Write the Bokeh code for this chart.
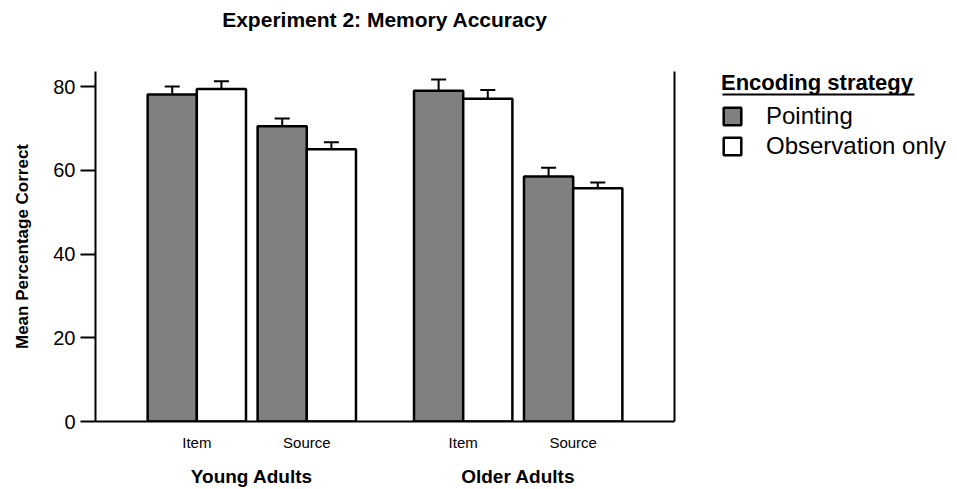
from bokeh.plotting import figure
from bokeh.layouts import row
from bokeh.models import (FactorRange, ColumnDataSource, Whisker, TeeHead, Legend,
                          LegendItem, LinearAxis, FixedTicker, Range1d, Title)
from bokeh.transform import dodge
from bokeh.embed import file_html
from bokeh.resources import INLINE

# ---- data ----
groups = ["Young Adults", "Older Adults"]
conditions = ["Item", "Source"]
strategies = ["Pointing", "Observation only"]
pointing_mean = [78.1, 70.5, 79.0, 58.5]
pointing_upper = [80.0, 72.4, 81.7, 60.6]
observation_mean = [79.4, 65.0, 77.1, 55.7]
observation_upper = [81.3, 66.7, 79.2, 57.1]
y_ticks = [0, 20, 40, 60, 80]

FONT = "Liberation Sans"
GRAY = "#808080"
H = 489

factors = [(g, c) for g in groups for c in conditions]
src = ColumnDataSource(dict(x=factors, p=pointing_mean, pu=pointing_upper,
                            o=observation_mean, ou=observation_upper))

xr = FactorRange(*factors, factor_padding=0.118, group_padding=0.59,
                 range_padding=0.53, range_padding_units="absolute")

p = figure(x_range=xr, y_range=Range1d(0, 83.6), width=700, height=H,
           output_backend="svg", toolbar_location=None, title=None,
           min_border_left=95, min_border_right=26, min_border_top=71, min_border_bottom=67)
p.outline_line_color = None
p.grid.visible = False

# spacer (closest to the frame) then the real title above it
p.add_layout(Title(text=" ", text_font_size="1px", standoff=36), "above")
p.add_layout(Title(text="Experiment 2: Memory Accuracy", align="center", vertical_align="top",
                   text_font=FONT, text_font_size="21px", text_font_style="bold",
                   text_color="black", standoff=0), "above")

p.vbar(x=dodge("x", -0.25, range=xr), top="p", width=0.5, source=src,
       fill_color=GRAY, line_color="black", line_width=2.5)
p.vbar(x=dodge("x", 0.25, range=xr), top="o", width=0.5, source=src,
       fill_color="white", line_color="black", line_width=2.5)

for off, lo, up in [(-0.25, "p", "pu"), (0.25, "o", "ou")]:
    w = Whisker(source=src, base=dodge("x", off, range=xr), lower=lo, upper=up,
                dimension="height", line_width=2, line_color="black",
                upper_head=TeeHead(size=15, line_width=2, line_color="black"),
                lower_head=None)
    p.add_layout(w)

# y axis
ya = p.yaxis[0]
ya.ticker = FixedTicker(ticks=y_ticks)
ya.minor_tick_line_color = None
ya.major_tick_out = 15
ya.major_tick_in = 0
ya.major_tick_line_width = 2
ya.axis_line_width = 2
ya.major_label_text_font = FONT
ya.major_label_text_font_size = "20px"
ya.major_label_text_color = "black"
ya.major_label_standoff = 5
ya.axis_label = "Mean Percentage Correct"
ya.axis_label_text_font = FONT
ya.axis_label_text_font_size = "17px"
ya.axis_label_text_font_style = "bold"
ya.axis_label_text_color = "black"
ya.axis_label_standoff = 18

# x axis
xa = p.xaxis[0]
xa.major_tick_line_color = None
xa.major_tick_out = 0
xa.major_tick_in = 0
xa.axis_line_width = 2
xa.major_label_text_font = FONT
xa.major_label_text_font_size = "15px"
xa.major_label_text_color = "black"
xa.major_label_standoff = 12
xa.group_text_font = FONT
xa.group_text_font_size = "19px"
xa.group_text_font_style = "bold"
xa.group_text_color = "black"
xa.separator_line_alpha = 0

# right border
ra = LinearAxis(ticker=FixedTicker(ticks=[]), axis_line_width=2,
                major_tick_line_color=None, minor_tick_line_color=None)
p.add_layout(ra, "right")

# ---- legend panel (its frame is aligned with the main frame: 351 px tall) ----
lf = figure(width=249, height=H, x_range=Range1d(0, 249), y_range=Range1d(0, 351),
            output_backend="svg", toolbar_location=None,
            min_border_left=0, min_border_right=0,
            min_border_top=71, min_border_bottom=67,
            x_axis_location=None, y_axis_location=None)
lf.outline_line_color = None
lf.grid.visible = False

proxy_p = lf.vbar(x=[0], top=[0], width=1, fill_color=GRAY,
                  line_color="black", line_width=2.5, visible=False)
proxy_o = lf.vbar(x=[0], top=[0], width=1, fill_color="white",
                  line_color="black", line_width=2.5, visible=False)

legend = Legend(items=[LegendItem(label=strategies[0], renderers=[proxy_p]),
                       LegendItem(label=strategies[1], renderers=[proxy_o])],
                title="Encoding strategy", location=(21, 261), margin=0, padding=0,
                border_line_color=None, background_fill_alpha=0,
                inactive_fill_alpha=0,
                title_text_font=FONT, title_text_font_size="22px",
                title_text_font_style="bold", title_text_color="black",
                title_standoff=6,
                label_text_font=FONT, label_text_font_size="24px", label_text_color="black",
                glyph_width=22, glyph_height=22, label_standoff=23, spacing=2)
lf.add_layout(legend)

# underline of the legend title
lf.segment(x0=[22], y0=[328], x1=[214], y1=[328], line_color="black", line_width=2)

layout = row(p, lf)
open("out.html", "w").write(file_html(layout, INLINE))
